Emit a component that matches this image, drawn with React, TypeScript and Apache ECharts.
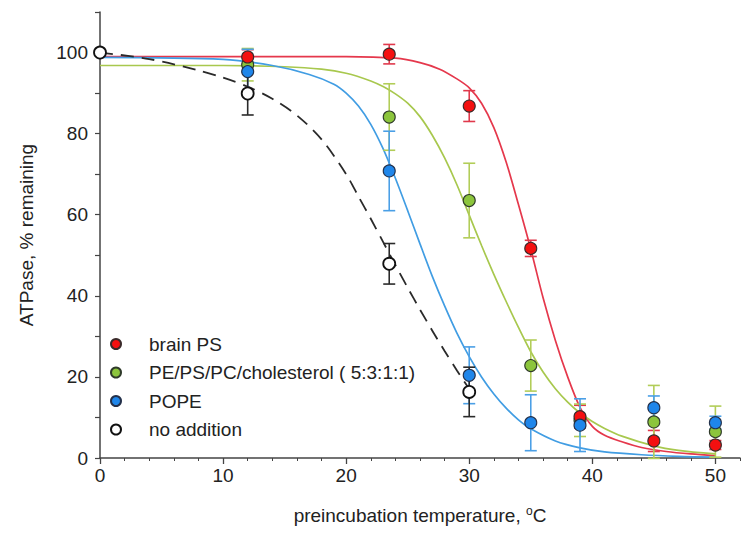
import React, { useEffect, useRef } from "react";
import * as echarts from "echarts";

// ---- Data ----
const seriesNames = [
  "brain PS",
  "PE/PS/PC/cholesterol ( 5:3:1:1)",
  "POPE",
  "no addition",
];

// measured points: x (°C), value (% remaining), error
const brainX = [12, 23.5, 30, 35, 39, 45, 50];
const brainY = [98.9, 99.6, 86.8, 51.7, 10.2, 4.2, 3.2];
const brainErr = [1.8, 2.4, 3.8, 2.0, 2.8, 2.6, 1.1];

const mixX = [12, 23.5, 30, 35, 39, 45, 50];
const mixY = [97.0, 84.1, 63.5, 22.8, 9.3, 8.9, 6.5];
const mixErr = [4.0, 8.2, 9.2, 6.3, 4.0, 9.0, 6.3];

const popeX = [12, 23.5, 30, 35, 39, 45, 50];
const popeY = [95.3, 70.8, 20.4, 8.7, 8.1, 12.4, 8.7];
const popeErr = [5.5, 9.8, 7.0, 6.9, 6.5, 2.9, 1.6];

const noneX = [0, 12, 23.5, 30];
const noneY = [100, 89.9, 47.9, 16.3];
const noneErr = [0, 5.3, 5.0, 6.1];

// fitted curves
const brainCurveX = [0, 10, 20, 24, 26, 27.6, 29, 30, 31, 32, 33, 34, 35, 36, 37, 38, 39, 40, 41, 42.4, 44, 46, 48, 50];
const brainCurveY = [99, 99, 99, 98.6, 97.5, 95.9, 93.5, 91.3, 87.5, 81.5, 73, 62.5, 51.5, 39.5, 29, 20, 12.5, 7.8, 5.6, 4.0, 2.6, 1.6, 1.0, 0.6];

const mixCurveX = [0, 10, 15, 18, 20, 22, 23, 24, 25, 26, 27, 28, 29, 30, 31, 32, 33, 34, 35, 36, 37, 38, 39, 40, 41, 42.4, 45, 47, 50];
const mixCurveY = [96.8, 96.8, 96.5, 95.9, 94.9, 93, 91.6, 89.8, 87.5, 84.2, 79.6, 74, 67.4, 59.9, 52.4, 45.3, 38.6, 32.2, 26.2, 21.2, 17.1, 13.8, 11.1, 9.0, 7.3, 5.4, 3.0, 1.9, 1.0];

const popeCurveX = [0, 10, 14, 17, 19, 20, 21, 22, 23, 24, 25, 26, 27, 28, 29, 30, 31, 32, 33, 34, 35, 37, 39, 41, 44, 47, 50];
const popeCurveY = [98.8, 98.3, 96.8, 94.6, 92.2, 90, 86.8, 82.3, 76.3, 69, 61, 52.8, 44.8, 37.5, 30.8, 25, 20, 15.8, 12.3, 9.4, 7.2, 4.2, 2.5, 1.5, 0.8, 0.4, 0.2];

const noneCurveX = [0, 4, 8, 10, 12, 14, 16, 18, 20, 21, 22, 23, 24, 25, 26, 27, 28, 29, 30];
const noneCurveY = [100, 98.4, 95.6, 93.8, 91.6, 88.6, 84.5, 78.6, 70, 64.5, 59, 53.3, 47.6, 42, 36.6, 31.4, 26.4, 21.6, 17];

// axis ticks and labels
const xMinorTicks = [0, 2, 4, 6, 8, 10, 12, 14, 16, 18, 20, 22, 24, 26, 28, 30, 32, 34, 36, 38, 40, 42, 44, 46, 48, 50, 52];
const xMajorTicks = [0, 10, 20, 30, 40, 50];
const yTicks = [0, 10, 20, 30, 40, 50, 60, 70, 80, 90, 100, 110];
const yLabels = [0, 20, 40, 60, 80, 100];

const FONT = "'Liberation Sans', Arial, sans-serif";

const zip = (xs: number[], ys: number[]) => xs.map((x, i) => [x, ys[i]]);
const errData = (xs: number[], ys: number[], es: number[]) =>
  xs
    .map((x, i) => [x, ys[i] - es[i], ys[i] + es[i], es[i]])
    .filter((d) => d[3] > 0);

function errorSeries(data: number[][], color: string) {
  return {
    type: "custom",
    silent: true,
    z: 3,
    data,
    renderItem: (params: any, api: any) => {
      const x = api.value(0);
      const lo = api.value(1);
      const hi = api.value(2);
      const p1 = api.coord([x, lo]);
      const p2 = api.coord([x, hi]);
      const w = 6;
      const style = { stroke: color, lineWidth: 1.6 };
      return {
        type: "group",
        children: [
          { type: "line", shape: { x1: p1[0], y1: p1[1], x2: p2[0], y2: p2[1] }, style },
          { type: "line", shape: { x1: p1[0] - w, y1: p1[1], x2: p1[0] + w, y2: p1[1] }, style },
          { type: "line", shape: { x1: p2[0] - w, y1: p2[1], x2: p2[0] + w, y2: p2[1] }, style },
        ],
      };
    },
  };
}

function curveSeries(xs: number[], ys: number[], color: string, dashed = false) {
  return {
    type: "line",
    silent: true,
    z: 2,
    data: zip(xs, ys),
    smooth: 0.3,
    showSymbol: false,
    symbol: "none",
    lineStyle: dashed
      ? { color, width: 1.8, type: [13, 8] }
      : { color, width: 1.7 },
  };
}

function pointSeries(name: string, xs: number[], ys: number[], fill: string, border: string, bw: number, z: number) {
  return {
    name,
    type: "scatter",
    z,
    symbol: "circle",
    symbolSize: 12,
    data: zip(xs, ys),
    itemStyle: { color: fill, borderColor: border, borderWidth: bw, opacity: 1 },
  };
}

export default function App() {
  const ref = useRef<HTMLDivElement>(null);
  useEffect(() => {
    if (!ref.current) return;
    const chart = echarts.init(ref.current, undefined, { renderer: "svg" });
    const axisColor = "#444";
    chart.setOption({
      animation: false,
      backgroundColor: "#ffffff",
      grid: { left: 100, right: 14, top: 12, bottom: 93, containLabel: false, outerBoundsMode: "none" },
      legend: {
        data: seriesNames,
        orient: "vertical",
        left: 110,
        top: 333,
        padding: 0,
        itemWidth: 56,
        itemHeight: 10,
        itemGap: 6.5,
        textStyle: { fontFamily: FONT, fontSize: 19, color: "#222", lineHeight: 22 },
        selectedMode: false,
      },
      xAxis: [
        {
          type: "value",
          min: 0,
          max: 52,
          position: "bottom",
          name: "preincubation temperature, {sup|o}C",
          nameLocation: "middle",
          nameGap: 47,
          nameTextStyle: {
            fontFamily: FONT,
            fontSize: 19,
            color: "#222",
            rich: { sup: { fontFamily: FONT, fontSize: 12, color: "#222", verticalAlign: "top", padding: [0, 0, 8, 0] } },
          },
          axisLine: { show: true, onZero: false, lineStyle: { color: axisColor, width: 1.5 } },
          axisTick: { show: true, inside: false, length: 3, customValues: xMinorTicks, lineStyle: { color: axisColor, width: 1 } },
          axisLabel: { show: false },
          splitLine: { show: false },
        },
        {
          type: "value",
          min: 0,
          max: 52,
          position: "bottom",
          axisLine: { show: false },
          axisTick: { show: true, inside: false, length: 6, customValues: xMajorTicks, lineStyle: { color: axisColor, width: 1.3 } },
          axisLabel: { show: true, customValues: xMajorTicks, margin: 8, fontFamily: FONT, fontSize: 19, color: "#222" },
          splitLine: { show: false },
        },
      ],
      yAxis: {
        type: "value",
        min: 0,
        max: 110,
        name: "ATPase, % remaining",
        nameLocation: "middle",
        nameGap: 64,
        nameTextStyle: { fontFamily: FONT, fontSize: 19, color: "#222" },
        axisLine: { show: true, onZero: false, lineStyle: { color: axisColor, width: 1.5 } },
        axisTick: { show: true, inside: false, length: 5, customValues: yTicks, lineStyle: { color: axisColor, width: 1.2 } },
        axisLabel: { show: true, customValues: yLabels, margin: 12, fontFamily: FONT, fontSize: 19, color: "#222" },
        splitLine: { show: false },
      },
      series: [
        curveSeries(brainCurveX, brainCurveY, "#e5384c"),
        curveSeries(mixCurveX, mixCurveY, "#a8c84e"),
        curveSeries(popeCurveX, popeCurveY, "#419de3"),
        curveSeries(noneCurveX, noneCurveY, "#2a2a2a", true),
        errorSeries(errData(brainX, brainY, brainErr), "#e0394c"),
        errorSeries(errData(mixX, mixY, mixErr), "#b2cd58"),
        errorSeries(errData(popeX, popeY, popeErr), "#4a9fe6"),
        errorSeries(errData(noneX, noneY, noneErr), "#2a2a2a"),
        pointSeries(seriesNames[0], brainX, brainY, "#f41010", "#3a2a2a", 1.1, 6),
        pointSeries(seriesNames[1], mixX, mixY, "#8cc53c", "#2f3a2a", 1.1, 5),
        pointSeries(seriesNames[2], popeX, popeY, "#1f86ea", "#23304a", 1.1, 7),
        pointSeries(seriesNames[3], noneX, noneY, "#ffffff", "#111111", 1.8, 8),
      ],
    });
    return () => chart.dispose();
  }, []);
  return (
    <div
      ref={ref}
      style={{ position: "fixed", left: 0, top: 0, width: 754, height: 551, background: "#fff" }}
    />
  );
}
